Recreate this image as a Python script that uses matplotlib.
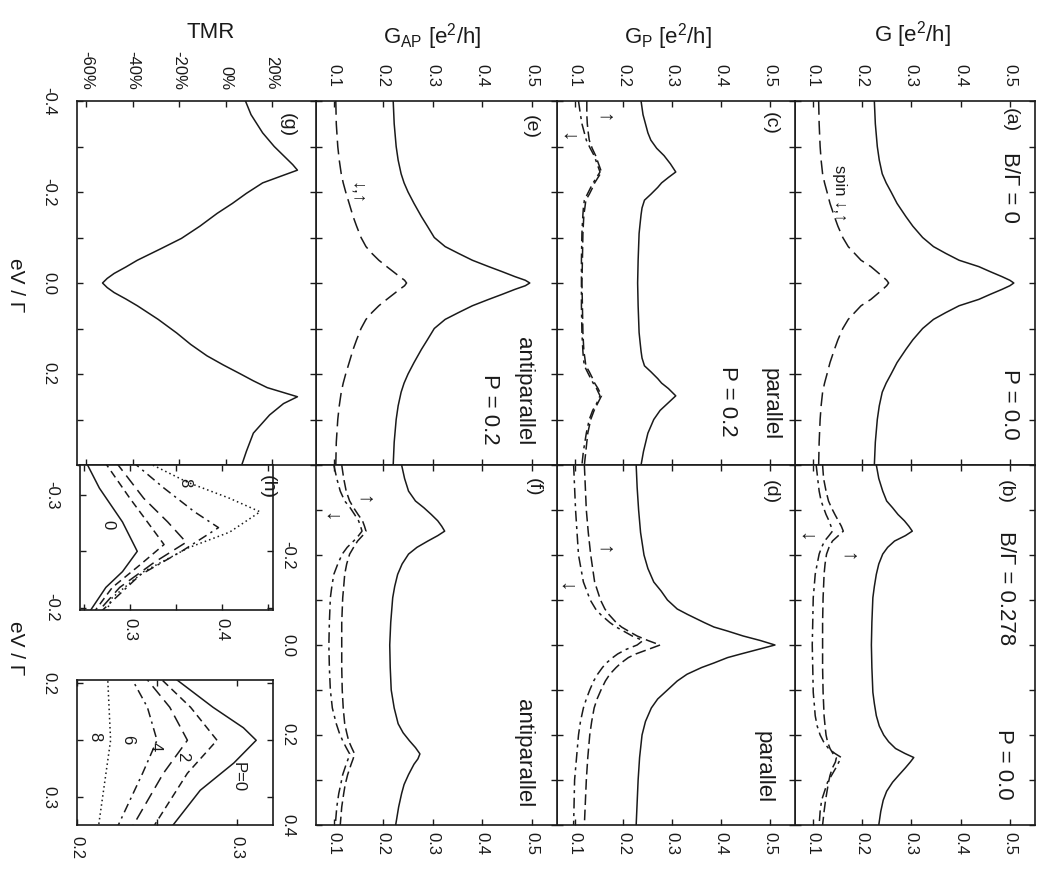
import matplotlib.pyplot as plt

plt.rcParams['font.family'] = ['Liberation Sans', 'DejaVu Sans']
plt.rcParams['axes.unicode_minus'] = False
plt.rcParams['mathtext.fontset'] = 'custom'
plt.rcParams['mathtext.rm'] = 'Liberation Sans'
plt.rcParams['mathtext.it'] = 'Liberation Sans:italic'

W, H = 1042, 877
INK = '#1a1a1a'

### data: bias eV/Gamma, conductance in e^2/h, TMR in %

# (a) B/Gamma = 0, P = 0
ev_a = [-0.4, -0.35, -0.3, -0.27, -0.24, -0.22, -0.2, -0.175, -0.146, -0.125, -0.1, -0.08,
        -0.065, -0.05, -0.036, -0.025, -0.014, -0.006, 0.0,
        0.006, 0.014, 0.025, 0.036, 0.05, 0.065, 0.08, 0.1, 0.125, 0.146, 0.175, 0.2,
        0.22, 0.24, 0.27, 0.3, 0.35, 0.4]
g_a_tot = [0.225, 0.227, 0.231, 0.235, 0.241, 0.249, 0.259, 0.271, 0.289, 0.303, 0.323, 0.345,
           0.37, 0.397, 0.437, 0.46, 0.484, 0.5, 0.508,
           0.5, 0.484, 0.46, 0.437, 0.397, 0.37, 0.345, 0.323, 0.303, 0.289, 0.271, 0.259,
           0.249, 0.241, 0.235, 0.231, 0.227, 0.225]
g_a_spin = [0.112, 0.113, 0.115, 0.117, 0.12, 0.124, 0.129, 0.135, 0.144, 0.151, 0.161, 0.172,
            0.185, 0.198, 0.218, 0.23, 0.242, 0.25, 0.254,
            0.25, 0.242, 0.23, 0.218, 0.198, 0.185, 0.172, 0.161, 0.151, 0.144, 0.135, 0.129,
            0.124, 0.12, 0.117, 0.115, 0.113, 0.112]

# (b) B/Gamma = 0.278, P = 0
ev_b = [-0.4, -0.37, -0.342, -0.32, -0.305, -0.29, -0.276, -0.264, -0.253,
        -0.243, -0.231, -0.217, -0.202, -0.18, -0.157, -0.13, -0.105, -0.05, 0.0,
        0.05, 0.105, 0.13, 0.157, 0.18, 0.2, 0.215, 0.23, 0.241, 0.25,
        0.26, 0.273, 0.29, 0.305, 0.325, 0.345, 0.37, 0.4]
g_b_tot = [0.229, 0.234, 0.242, 0.25, 0.262, 0.273, 0.286, 0.295, 0.302,
           0.288, 0.266, 0.252, 0.242, 0.234, 0.229, 0.225, 0.222, 0.22, 0.219,
           0.22, 0.222, 0.225, 0.229, 0.235, 0.244, 0.254, 0.268, 0.287, 0.305,
           0.298, 0.288, 0.274, 0.262, 0.25, 0.243, 0.238, 0.234]
g_b_up = [0.12, 0.122, 0.127, 0.132, 0.138, 0.145, 0.152, 0.158, 0.162,
          0.152, 0.14, 0.133, 0.128, 0.125, 0.123, 0.122, 0.121, 0.12, 0.12,
          0.12, 0.121, 0.122, 0.123, 0.125, 0.127, 0.13, 0.135, 0.141, 0.148,
          0.146, 0.14, 0.135, 0.132, 0.129, 0.126, 0.123, 0.12]
g_b_dn = [0.107, 0.11, 0.113, 0.117, 0.122, 0.127, 0.133, 0.137, 0.14,
          0.133, 0.124, 0.118, 0.113, 0.109, 0.105, 0.103, 0.101, 0.1, 0.099,
          0.1, 0.101, 0.103, 0.105, 0.109, 0.115, 0.122, 0.132, 0.145, 0.158,
          0.153, 0.147, 0.138, 0.13, 0.124, 0.118, 0.115, 0.113]

# (c) parallel, P = 0.2, B = 0
ev_c = [-0.4, -0.37, -0.35, -0.33, -0.314, -0.296, -0.28, -0.262, -0.244,
        -0.232, -0.22, -0.21, -0.195, -0.182, -0.165, -0.15, -0.13, -0.109, -0.05, 0.0,
        0.05, 0.109, 0.13, 0.15, 0.165, 0.182, 0.195, 0.21, 0.22, 0.232,
        0.248, 0.265, 0.28, 0.3, 0.33, 0.37, 0.4]
g_c_tot = [0.236, 0.24, 0.245, 0.25, 0.256, 0.268, 0.283, 0.296, 0.307,
           0.292, 0.278, 0.27, 0.256, 0.243, 0.238, 0.236, 0.234, 0.232, 0.23, 0.229,
           0.23, 0.232, 0.234, 0.236, 0.238, 0.243, 0.256, 0.27, 0.278, 0.292,
           0.307, 0.29, 0.275, 0.262, 0.25, 0.241, 0.236]
g_c_up = [0.125, 0.125, 0.126, 0.128, 0.13, 0.136, 0.143, 0.149, 0.155,
          0.148, 0.141, 0.137, 0.13, 0.123, 0.121, 0.119, 0.118, 0.117, 0.116, 0.115,
          0.116, 0.117, 0.118, 0.119, 0.121, 0.123, 0.13, 0.137, 0.141, 0.148,
          0.155, 0.147, 0.14, 0.133, 0.127, 0.123, 0.12]
g_c_dn = [0.108, 0.112, 0.115, 0.12, 0.124, 0.132, 0.14, 0.146, 0.152,
          0.145, 0.138, 0.133, 0.126, 0.12, 0.118, 0.117, 0.116, 0.115, 0.114, 0.114,
          0.114, 0.115, 0.116, 0.117, 0.118, 0.12, 0.126, 0.133, 0.138, 0.145,
          0.152, 0.145, 0.137, 0.13, 0.124, 0.118, 0.115]

# (d) parallel, B/Gamma = 0.278
ev_d = [-0.4, -0.35, -0.3, -0.25, -0.2, -0.17, -0.14, -0.12, -0.1, -0.08, -0.068, -0.05,
        -0.04, -0.031, -0.02, -0.01, 0.0,
        0.01, 0.02, 0.028, 0.04, 0.05, 0.065, 0.08, 0.1, 0.12, 0.14, 0.17, 0.2, 0.25,
        0.3, 0.35, 0.4]
g_d_tot = [0.226, 0.228, 0.231, 0.235, 0.242, 0.25, 0.262, 0.277, 0.29, 0.31, 0.331, 0.365,
           0.385, 0.413, 0.445, 0.48, 0.51,
           0.475, 0.44, 0.413, 0.385, 0.36, 0.33, 0.31, 0.29, 0.27, 0.257, 0.245, 0.238, 0.233,
           0.23, 0.228, 0.226]
g_d_up = [0.12, 0.122, 0.124, 0.128, 0.133, 0.137, 0.141, 0.147, 0.153, 0.162, 0.17, 0.185,
          0.196, 0.21, 0.228, 0.25, 0.275,
          0.25, 0.225, 0.21, 0.195, 0.185, 0.172, 0.163, 0.154, 0.146, 0.14, 0.135, 0.131, 0.127,
          0.124, 0.122, 0.12]
g_d_dn = [0.098, 0.1, 0.102, 0.105, 0.108, 0.113, 0.118, 0.125, 0.132, 0.143, 0.153, 0.172,
          0.185, 0.2, 0.218, 0.24, 0.228,
          0.205, 0.188, 0.178, 0.165, 0.157, 0.147, 0.139, 0.131, 0.124, 0.118, 0.112, 0.108, 0.104,
          0.1, 0.099, 0.098]

# (e) antiparallel, P = 0.2, B = 0
ev_e = ev_a
g_e_tot = [0.22, 0.222, 0.226, 0.23, 0.236, 0.242, 0.25, 0.262, 0.277, 0.289, 0.303, 0.325,
           0.352, 0.38, 0.413, 0.44, 0.466, 0.487, 0.496,
           0.487, 0.466, 0.44, 0.413, 0.38, 0.352, 0.325, 0.303, 0.289, 0.277, 0.262, 0.25,
           0.242, 0.236, 0.23, 0.226, 0.222, 0.22]
g_e_spin = [0.104, 0.105, 0.108, 0.111, 0.115, 0.119, 0.124, 0.131, 0.139, 0.146, 0.155, 0.165,
            0.177, 0.191, 0.207, 0.22, 0.233, 0.243, 0.247,
            0.243, 0.233, 0.22, 0.207, 0.191, 0.177, 0.165, 0.155, 0.146, 0.139, 0.131, 0.124,
            0.119, 0.115, 0.111, 0.108, 0.105, 0.104]

# (f) antiparallel, B/Gamma = 0.278
ev_f = [-0.4, -0.37, -0.342, -0.32, -0.305, -0.29, -0.276, -0.264, -0.253,
        -0.243, -0.231, -0.217, -0.202, -0.18, -0.157, -0.13, -0.105, -0.05, 0.0,
        0.05, 0.1, 0.14, 0.175, 0.195, 0.213, 0.228, 0.242,
        0.253, 0.265, 0.288, 0.31, 0.33, 0.36, 0.4]
g_f_tot = [0.237, 0.243, 0.251, 0.265, 0.282, 0.297, 0.31, 0.318, 0.324,
           0.31, 0.29, 0.268, 0.251, 0.238, 0.229, 0.223, 0.219, 0.215, 0.213,
           0.214, 0.216, 0.222, 0.23, 0.24, 0.253, 0.265, 0.274,
           0.27, 0.262, 0.251, 0.242, 0.237, 0.231, 0.225]
g_f_up = [0.116, 0.12, 0.125, 0.132, 0.14, 0.149, 0.158, 0.162, 0.165,
          0.158, 0.148, 0.14, 0.132, 0.126, 0.122, 0.12, 0.118, 0.116, 0.116,
          0.116, 0.117, 0.119, 0.122, 0.126, 0.13, 0.136, 0.142,
          0.139, 0.135, 0.128, 0.123, 0.12, 0.116, 0.113]
g_f_dn = [0.1, 0.106, 0.113, 0.122, 0.133, 0.142, 0.15, 0.154, 0.157,
          0.15, 0.14, 0.127, 0.117, 0.108, 0.1, 0.096, 0.093, 0.091, 0.09,
          0.091, 0.093, 0.097, 0.105, 0.111, 0.118, 0.125, 0.132,
          0.129, 0.125, 0.118, 0.114, 0.11, 0.106, 0.103]

# (g) TMR
ev_g = [-0.4, -0.37, -0.33, -0.3, -0.275, -0.26, -0.248, -0.235, -0.22, -0.197,
        -0.175, -0.153, -0.125, -0.098, -0.075, -0.05, -0.035, -0.021, -0.01, 0.0,
        0.01, 0.021, 0.035, 0.05, 0.08, 0.11, 0.135, 0.16, 0.18, 0.2,
        0.215, 0.23, 0.25, 0.265, 0.29, 0.33, 0.37, 0.4]
tmr_g = [8.6, 11, 16, 21, 26, 29, 31, 24, 16, 9,
         3, -3.6, -11, -19, -28, -38, -43, -48, -51, -53,
         -51, -48, -43, -38, -29, -21, -15, -8, -1, 6.5,
         12, 18, 31, 25, 19, 12, 9, 7]

# (h) zoom on the satellite peaks for P = 0, 0.2, 0.4, 0.6, 0.8
hl_ev = {0: [-0.33, -0.306, -0.276, -0.25, -0.232, -0.218, -0.196],
         2: [-0.33, -0.297, -0.276, -0.256, -0.238, -0.218, -0.196],
         4: [-0.33, -0.297, -0.276, -0.258, -0.24, -0.218, -0.196],
         6: [-0.33, -0.306, -0.285, -0.271, -0.25, -0.229, -0.196],
         8: [-0.33, -0.311, -0.297, -0.285, -0.267, -0.253, -0.232, -0.209, -0.196]}
hl_g = {0: [0.252, 0.267, 0.292, 0.308, 0.292, 0.274, 0.256],
        2: [0.272, 0.3, 0.319, 0.337, 0.311, 0.281, 0.261],
        4: [0.284, 0.315, 0.341, 0.361, 0.326, 0.289, 0.265],
        6: [0.302, 0.337, 0.37, 0.396, 0.356, 0.311, 0.268],
        8: [0.316, 0.363, 0.408, 0.441, 0.408, 0.363, 0.315, 0.281, 0.274]}
hr_ev = {0: [0.19, 0.221, 0.239, 0.25, 0.27, 0.294, 0.33],
         2: [0.19, 0.221, 0.25, 0.279, 0.33],
         4: [0.19, 0.221, 0.25, 0.279, 0.33],
         6: [0.19, 0.221, 0.25, 0.279, 0.33],
         8: [0.19, 0.25, 0.33]}
hr_g = {0: [0.256, 0.285, 0.304, 0.312, 0.298, 0.277, 0.257],
        2: [0.248, 0.271, 0.2875, 0.269, 0.246],
        4: [0.24, 0.258, 0.269, 0.254, 0.233],
        6: [0.232, 0.244, 0.25, 0.241, 0.224],
        8: [0.219, 0.221, 0.213]}

g_ticks = [0.1, 0.2, 0.3, 0.4, 0.5]
g_labels = ['0.1', '0.2', '0.3', '0.4', '0.5']
tmr_ticks = [-60, -40, -20, 0, 20]
tmr_labels = ['-60%', '-40%', '-20%', '0%', '20%']

SOLID = '-'
DASH = (0, (7, 3))
DASHDOT = (0, (7, 3, 2, 3))
P_STYLE = {0: '-', 2: (0, (5, 3)), 4: (0, (8, 4)), 6: (0, (6, 3, 1.5, 3)), 8: (0, (1, 2))}

fig = plt.figure(figsize=(W / 100, H / 100), dpi=100)


def box(x0, y0, x1, y1):
	return [x0 / W, 1 - y1 / H, (x1 - x0) / W, (y1 - y0) / H]


def note(x, y, s, size=15, va='center'):
	fig.text(x / W, 1 - y / H, s, fontsize=size, rotation=270, ha='center', va=va, color=INK)


def panel(rect, xlim, ylim=(0.4, -0.4)):
	ax = fig.add_axes(box(*rect))
	ax.set_xlim(*xlim)
	ax.set_ylim(*ylim)
	ax.tick_params(which='both', direction='in', length=4, width=1, top=True, bottom=True,
	               left=True, right=True, labelleft=False, labelbottom=False, labelsize=12,
	               colors=INK)
	for s in ax.spines.values():
		s.set_linewidth(1.2)
		s.set_color(INK)
	return ax


def ev_axis(ax, labelled=None):
	if labelled is None:
		ax.set_yticks([-0.4, -0.2, 0.0, 0.2, 0.4])
		ax.set_yticks([-0.3, -0.1, 0.1, 0.3], minor=True)
	else:
		ax.set_yticks(labelled, labels=['%.1f' % v for v in labelled], rotation=270, va='center')
		ax.set_yticks([v / 10 for v in range(-4, 5) if round(v / 10, 1) not in labelled], minor=True)
		ax.tick_params(axis='y', labelleft=True, pad=15)


def g_axis(ax, top):
	ax.set_xticks(g_ticks, labels=g_labels, rotation=270)
	if top:
		ax.tick_params(axis='x', labeltop=True, labelbottom=False, pad=10)
	else:
		ax.tick_params(axis='x', labeltop=False, labelbottom=True, pad=5)


GLIM = (0.064, 0.551)
TOP = (101, 465)
BOT = (465, 825)

ax_a = panel((795, TOP[0], 1035, TOP[1]), GLIM)
ax_c = panel((557, TOP[0], 795, TOP[1]), GLIM)
ax_e = panel((316, TOP[0], 557, TOP[1]), GLIM)
ax_b = panel((795, BOT[0], 1035, BOT[1]), GLIM)
ax_d = panel((557, BOT[0], 795, BOT[1]), GLIM)
ax_f = panel((316, BOT[0], 557, BOT[1]), GLIM)
ax_g = panel((77, TOP[0], 316, TOP[1]), (-64, 39))

for ax in (ax_a, ax_c, ax_e):
	g_axis(ax, True)
	ev_axis(ax)
for ax in (ax_b, ax_d):
	g_axis(ax, False)
	ev_axis(ax)
g_axis(ax_f, False)
ev_axis(ax_f, [-0.2, 0.0, 0.2, 0.4])

ax_g.set_xticks(tmr_ticks, labels=tmr_labels, rotation=270)
ax_g.tick_params(axis='x', labeltop=True, labelbottom=False, pad=8)
ev_axis(ax_g, [-0.4, -0.2, 0.0, 0.2])

kw = dict(color=INK, lw=1.1)
ax_a.plot(g_a_tot, ev_a, ls=SOLID, **kw)
ax_a.plot(g_a_spin, ev_a, ls=(0, (9, 4)), **kw)
ax_b.plot(g_b_tot, ev_b, ls=SOLID, **kw)
ax_b.plot(g_b_up, ev_b, ls=DASH, **kw)
ax_b.plot(g_b_dn, ev_b, ls=DASHDOT, **kw)
ax_c.plot(g_c_tot, ev_c, ls=SOLID, **kw)
ax_c.plot(g_c_up, ev_c, ls=DASH, **kw)
ax_c.plot(g_c_dn, ev_c, ls=DASHDOT, **kw)
ax_d.plot(g_d_tot, ev_d, ls=SOLID, **kw)
ax_d.plot(g_d_up, ev_d, ls=DASH, **kw)
ax_d.plot(g_d_dn, ev_d, ls=DASHDOT, **kw)
ax_e.plot(g_e_tot, ev_e, ls=SOLID, **kw)
ax_e.plot(g_e_spin, ev_e, ls=(0, (9, 4)), **kw)
ax_f.plot(g_f_tot, ev_f, ls=SOLID, **kw)
ax_f.plot(g_f_up, ev_f, ls=DASH, **kw)
ax_f.plot(g_f_dn, ev_f, ls=DASHDOT, **kw)
ax_g.plot(tmr_g, ev_g, ls=SOLID, **kw)

### (h) two insets
ax_hl = panel((80, 465, 273, 610), (0.246, 0.455), (-0.198, -0.3265))
ax_hl.set_xticks([0.3, 0.4], labels=['0.3', '0.4'], rotation=270)
ax_hl.set_xticks([0.25, 0.35, 0.45], minor=True)
ax_hl.set_yticks([-0.3, -0.2], labels=['-0.3', '-0.2'], rotation=270, va='center')
ax_hl.set_yticks([-0.25], minor=True)
ax_hl.tick_params(axis='x', labelbottom=True, pad=6)
ax_hl.tick_params(axis='y', labelleft=True, pad=15)

ax_hr = panel((77, 680, 273, 825), (0.2, 0.3225), (0.3245, 0.197))
ax_hr.set_xticks([0.2, 0.3], labels=['0.2', '0.3'], rotation=270)
ax_hr.set_xticks([0.25], minor=True)
ax_hr.set_yticks([0.2, 0.3], labels=['0.2', '0.3'], rotation=270, va='center')
ax_hr.set_yticks([0.25], minor=True)
ax_hr.tick_params(axis='x', labelbottom=True, pad=8)
ax_hr.tick_params(axis='y', labelleft=True, pad=15)

for p in (0, 2, 4, 6, 8):
	ax_hl.plot(hl_g[p], hl_ev[p], ls=P_STYLE[p], **kw)
	ax_hr.plot(hr_g[p], hr_ev[p], ls=P_STYLE[p], **kw)

### axis titles (horizontal after the turn)
fig.text(912 / W, 1 - 35 / H, 'G [e$^{\\mathrm{2}}$/h]', fontsize=16, ha='center', va='center', color=INK)
fig.text(668 / W, 1 - 37 / H, 'G$_{\\mathrm{P}}$ [e$^{\\mathrm{2}}$/h]', fontsize=16, ha='center', va='center', color=INK)
fig.text(432 / W, 1 - 37 / H, 'G$_{\\mathrm{AP}}$ [e$^{\\mathrm{2}}$/h]', fontsize=16, ha='center', va='center', color=INK)
fig.text(211 / W, 1 - 33 / H, 'TMR', fontsize=16, ha='center', va='center', color=INK)
note(15, 285, 'eV / Γ', size=15)
note(15, 648, 'eV / Γ', size=15)

### panel texts
note(1010, 108, '(a)', size=14, va='top')
note(1010, 187, 'B/Γ = 0', size=16)
note(1010, 440, 'P = 0.0', size=16, va='bottom')
note(840, 193, 'spin ↓,↑', size=12)

note(1005, 480, '(b)', size=14, va='top')
note(1005, 588, 'B/Γ = 0.278', size=16)
note(1003, 800, 'P = 0.0', size=16, va='bottom')
note(805, 537, '↓', size=15)
note(847, 557, '↑', size=15)

note(770, 112, '(c)', size=14, va='top')
note(770, 440, 'parallel', size=16, va='bottom')
note(727, 437, 'P = 0.2', size=16, va='bottom')
note(603, 118, '↑', size=15)
note(567, 137, '↓', size=15)

note(770, 480, '(d)', size=14, va='top')
note(763, 803, 'parallel', size=16, va='bottom')
note(603, 550, '↑', size=15)
note(565, 587, '↓', size=15)

note(530, 115, '(e)', size=14, va='top')
note(523, 445, 'antiparallel', size=16, va='bottom')
note(490, 445, 'P = 0.2', size=16, va='bottom')
note(357, 193, '↓,↑', size=13)

note(533, 478, '(f)', size=14, va='top')
note(523, 807, 'antiparallel', size=16, va='bottom')
note(363, 500, '↑', size=15)
note(330, 517, '↓', size=15)

note(287, 113, '(g)', size=14, va='top')

note(267, 475, '(h)', size=14, va='top')
note(185, 483, '8', size=12)
note(108, 525, '0', size=12)
note(95, 737, '8', size=12)
note(128, 740, '6', size=12)
note(155, 747, '4', size=12)
note(183, 757, '2', size=12)
note(238, 777, 'P=0', size=12)

fig.savefig('out.png', dpi=100)
